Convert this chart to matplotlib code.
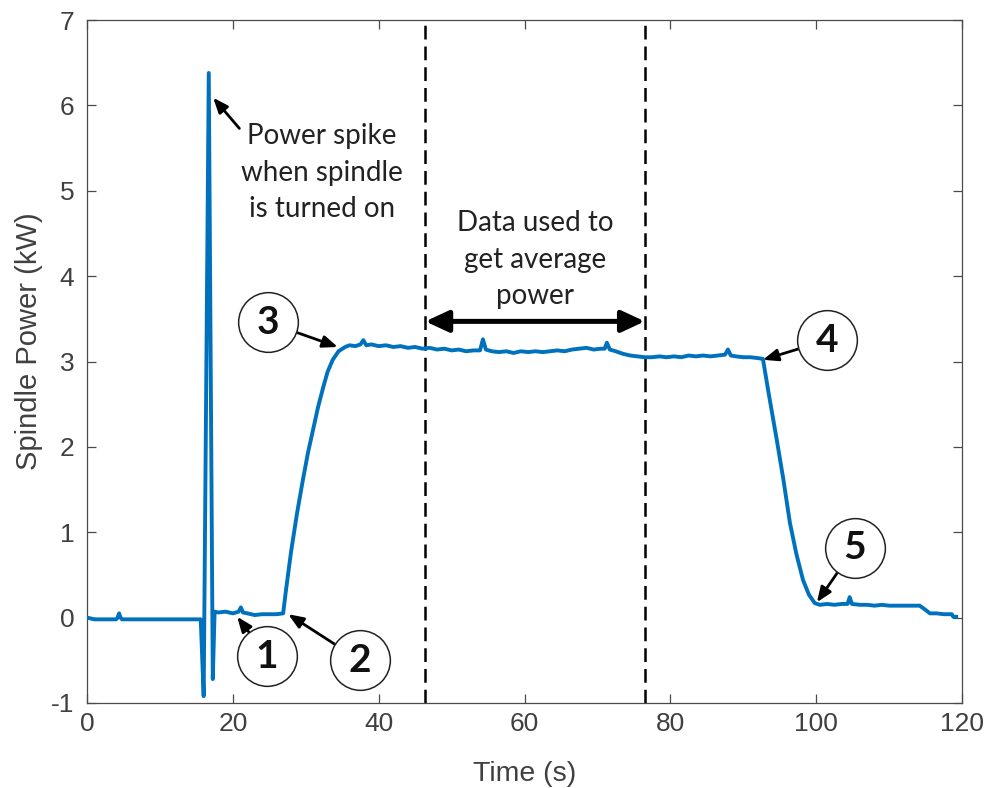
import matplotlib
matplotlib.use("Agg")
import matplotlib.pyplot as plt

plt.rcParams["axes.unicode_minus"] = False

# ---- spindle power trace (time in s, power in kW) ----
time_s = [
    0.0, 0.5, 1.0, 2.0, 3.0, 4.0, 4.2, 4.4, 4.6, 4.8, 6.0, 8.0, 10.0, 12.0, 14.0, 15.6,
    16.0, 16.7, 17.25, 17.5, 18.0, 19.0, 20.0, 20.8, 21.1, 21.4, 22.0, 23.0, 24.0, 25.0, 26.0,
    26.9, 27.3, 28.0, 28.8, 29.6, 30.3, 31.0, 31.7, 32.4, 33.0, 33.7, 34.5, 35.4,
    36.0, 36.8, 37.5, 37.9, 38.3, 39.0, 40.0, 41.0, 42.0, 43.0, 44.0, 45.0, 46.0, 47.0,
    48.0, 49.0, 50.0, 51.0, 52.0, 53.0, 53.9, 54.3, 54.7, 55.5, 56.5, 57.5, 58.5, 59.5,
    60.5, 61.5, 62.5, 63.5, 64.5, 65.5, 66.5, 67.5, 68.5, 69.5, 70.5, 71.0, 71.3, 71.7,
    72.5, 73.5, 74.5, 75.5, 76.5, 77.5, 78.5, 79.5, 80.5, 81.5, 82.5, 83.5, 84.5, 85.5,
    86.5, 87.5, 87.9, 88.3, 89.0, 90.0, 91.0, 92.0, 92.7,
    93.5, 94.6, 95.5, 96.4, 97.3, 98.2, 99.0, 99.8, 100.5,
    101.5, 102.5, 103.5, 104.3, 104.6, 104.9, 106.0, 107.0, 108.0, 109.0, 110.0, 111.0,
    112.0, 113.0, 114.2, 115.0, 115.6, 116.5, 117.5, 118.6, 118.8, 119.2,
]
power_kw = [
    0.00, -0.01, -0.02, -0.02, -0.02, -0.02, 0.00, 0.05, 0.00, -0.02, -0.02, -0.02, -0.02, -0.02, -0.02, -0.02,
    -0.92, 6.38, -0.72, 0.07, 0.06, 0.07, 0.05, 0.07, 0.12, 0.06, 0.05, 0.03, 0.04, 0.04, 0.04,
    0.05, 0.33, 0.78, 1.22, 1.61, 1.93, 2.20, 2.47, 2.70, 2.88, 3.02, 3.12, 3.17,
    3.19, 3.18, 3.20, 3.25, 3.19, 3.20, 3.18, 3.19, 3.17, 3.18, 3.16, 3.17, 3.15, 3.16,
    3.14, 3.15, 3.13, 3.14, 3.12, 3.13, 3.13, 3.26, 3.14, 3.12, 3.11, 3.12, 3.10, 3.12,
    3.11, 3.12, 3.11, 3.12, 3.13, 3.12, 3.14, 3.15, 3.16, 3.14, 3.15, 3.15, 3.22, 3.14,
    3.12, 3.09, 3.07, 3.06, 3.05, 3.05, 3.06, 3.05, 3.06, 3.05, 3.07, 3.06, 3.07, 3.06,
    3.07, 3.08, 3.14, 3.07, 3.06, 3.05, 3.05, 3.04, 3.03,
    2.62, 2.08, 1.62, 1.11, 0.74, 0.44, 0.27, 0.17, 0.15,
    0.16, 0.15, 0.16, 0.16, 0.24, 0.16, 0.15, 0.15, 0.14, 0.15, 0.14, 0.14,
    0.14, 0.14, 0.14, 0.09, 0.05, 0.05, 0.04, 0.04, 0.01, 0.01,
]

# averaging window bounds (s)
window_start = 46.4
window_end = 76.5

x_ticks = [0, 20, 40, 60, 80, 100, 120]
y_ticks = [-1, 0, 1, 2, 3, 4, 5, 6, 7]

# numbered callouts: (label, point on trace, circle centre)
callouts = [
    ("1", (20.6, 0.01), (24.7, -0.45)),
    ("2", (27.6, 0.04), (37.4, -0.50)),
    ("3", (34.4, 3.17), (24.8, 3.46)),
    ("4", (92.7, 3.02), (101.5, 3.25)),
    ("5", (100.1, 0.18), (105.3, 0.82)),
]

axis_grey = "#4a4a4a"
label_grey = "#404040"
trace_blue = "#0072BD"

fig = plt.figure(figsize=(9.89, 7.88), dpi=100)
ax = fig.add_axes([87 / 989, 1 - 703 / 788, 875 / 989, 683 / 788])

ax.plot(time_s, power_kw, color=trace_blue, lw=2.8, solid_joinstyle="round", zorder=3)

for xv in (window_start, window_end):
    ax.axvline(xv, color="black", lw=1.8, linestyle=(0, (5.5, 2.8)), zorder=2)

ax.set_xlim(0, 120)
ax.set_ylim(-1, 7)
ax.set_xticks(x_ticks)
ax.set_yticks(y_ticks)

for s in ax.spines.values():
    s.set_color(axis_grey)
    s.set_linewidth(0.9)
ax.tick_params(direction="in", length=6.5, width=0.9, color=axis_grey,
               top=True, right=True, labelsize=19, labelcolor=label_grey)
ax.tick_params(axis="x", pad=6.5)
ax.tick_params(axis="y", pad=9)
for lab in ax.get_xticklabels() + ax.get_yticklabels():
    lab.set_fontfamily("Liberation Sans")

ax.set_xlabel("Time (s)", fontsize=20.5, color=label_grey, family="Liberation Sans")
ax.xaxis.set_label_coords(0.5, -0.085)
ax.set_ylabel("Spindle Power (kW)", fontsize=21, color=label_grey, family="Liberation Sans")
ax.yaxis.set_label_coords(-0.05, 0.53)

note_font = dict(family="Lato", fontsize=20, color="#222222", ha="center", va="center",
                 linespacing=1.5)

# spike note
ax.text(32.2, 5.21, "Power spike\nwhen spindle\nis turned on", **note_font)
ax.annotate("", xy=(17.3, 6.09), xytext=(20.9, 5.73),
            arrowprops=dict(arrowstyle="-|>,head_length=9,head_width=3.6", mutation_scale=1,
                            color="black", lw=2.0, shrinkA=0, shrinkB=0))

# averaging window note
ax.text(61.5, 4.19, "Data used to\nget average\npower", **note_font)
ax.annotate("", xy=(window_start, 3.47), xytext=(window_end, 3.47),
            arrowprops=dict(arrowstyle="<|-|>,head_length=14,head_width=6.5", mutation_scale=1,
                            color="black", lw=3.6, shrinkA=0, shrinkB=0), zorder=4)

# numbered circles with pointers
circle_diam_pt = 43
for label, pt, centre in callouts:
    ax.annotate("", xy=pt, xytext=centre,
                arrowprops=dict(arrowstyle="-|>,head_length=9,head_width=3.6", mutation_scale=1,
                                color="black", lw=2.0, shrinkA=circle_diam_pt / 2, shrinkB=0),
                zorder=5)
    ax.plot(*centre, marker="o", markersize=circle_diam_pt, markerfacecolor="white",
            markeredgecolor="#222222", markeredgewidth=1.1, zorder=6, clip_on=False)
    ax.text(*centre, label, family="Lato", fontweight="bold", fontsize=28, color="#111111",
            ha="center", va="center", zorder=7)

fig.savefig("out.png", dpi=100, facecolor="white")
